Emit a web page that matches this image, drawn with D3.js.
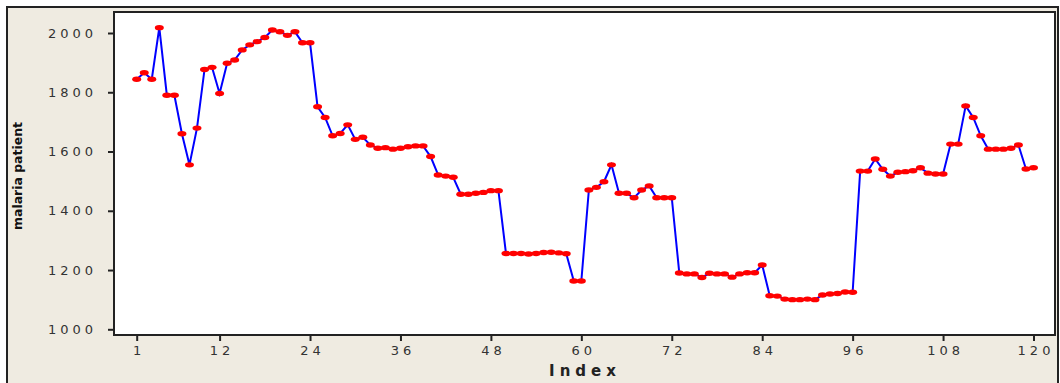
<!DOCTYPE html>
<html>
<head>
<meta charset="utf-8">
<script src="https://cdn.jsdelivr.net/npm/d3@7/dist/d3.min.js"></script>
<style>
  body { margin: 0; background: #fff; }
  svg { display: block; }
  .tick text { font-family: "DejaVu Sans", sans-serif; font-size: 13px; fill: #333; letter-spacing: 4px; }
</style>
</head>
<body>
<div id="chart"></div>
<script>
// malaria patients per index (1..120)
var patients = [
  1844, 1866, 1844, 2018, 1790, 1790, 1660, 1555, 1679, 1877,
  1884, 1796, 1898, 1909, 1943, 1960, 1971, 1985, 2010, 2004,
  1992, 2004, 1967, 1967, 1751, 1715, 1653, 1661, 1690, 1641,
  1648, 1622, 1611, 1613, 1608, 1611, 1616, 1619, 1619, 1583,
  1521, 1517, 1513, 1456, 1456, 1459, 1462, 1468, 1468, 1256,
  1256, 1256, 1254, 1256, 1259, 1260, 1258, 1255, 1163, 1163,
  1470, 1479, 1498, 1555, 1459, 1459, 1444, 1470, 1484, 1444,
  1444, 1444, 1190, 1187, 1187, 1175, 1189, 1187, 1187, 1176,
  1187, 1191, 1191, 1217, 1113, 1112, 1102, 1100, 1100, 1102,
  1100, 1116, 1119, 1121, 1126, 1125, 1534, 1534, 1575, 1540,
  1517, 1530, 1532, 1535, 1545, 1527, 1524, 1524, 1625, 1625,
  1754, 1715, 1653, 1608, 1608, 1608, 1611, 1622, 1541, 1545
];
var indexTicks = [1, 12, 24, 36, 48, 60, 72, 84, 96, 108, 120];
var valueTicks = [1000, 1200, 1400, 1600, 1800, 2000];

var width = 1060, height = 383;
var frame = {left: 114, top: 12, right: 1055, bottom: 335};

var svg = d3.select("#chart").append("svg")
    .attr("width", width)
    .attr("height", height);

// beige panel with dark outline
svg.append("rect")
    .attr("x", 7).attr("y", 7)
    .attr("width", 1051).attr("height", 400)
    .attr("fill", "#efebe1")
    .attr("stroke", "#222")
    .attr("stroke-width", 2);

svg.append("rect")
    .attr("x", frame.left).attr("y", frame.top)
    .attr("width", frame.right - frame.left)
    .attr("height", frame.bottom - frame.top)
    .attr("fill", "#fff");

var x = d3.scaleLinear().domain([1, 120]).range([136.7, 1033.5]);
var y = d3.scaleLinear().domain([1000, 2000]).range([329.3, 33]);

var xAxis = svg.append("g")
    .attr("transform", "translate(0," + frame.bottom + ")")
    .call(d3.axisBottom(x).tickValues(indexTicks).tickSize(6).tickPadding(5).tickFormat(d3.format("d")));
xAxis.select(".domain").remove();
xAxis.selectAll(".tick line").attr("stroke", "#222").attr("stroke-width", 2);
xAxis.selectAll(".tick text").attr("dx", "2px");

var yAxis = svg.append("g")
    .attr("transform", "translate(" + frame.left + ",0)")
    .call(d3.axisLeft(y).tickValues(valueTicks).tickSize(6).tickPadding(15).tickFormat(d3.format("d")));
yAxis.select(".domain").remove();
yAxis.selectAll(".tick line").attr("stroke", "#222").attr("stroke-width", 2);
yAxis.selectAll(".tick text").attr("dx", "4px");

// plot frame
svg.append("rect")
    .attr("x", frame.left).attr("y", frame.top)
    .attr("width", frame.right - frame.left)
    .attr("height", frame.bottom - frame.top)
    .attr("fill", "none")
    .attr("stroke", "#222")
    .attr("stroke-width", 2);

var line = d3.line()
    .x(function(d, i) { return x(i + 1); })
    .y(function(d) { return y(d); });

svg.append("path")
    .datum(patients)
    .attr("fill", "none")
    .attr("stroke", "#0000ff")
    .attr("stroke-width", 2)
    .attr("d", line);

svg.append("g").selectAll("ellipse")
    .data(patients)
  .enter().append("ellipse")
    .attr("cx", function(d, i) { return x(i + 1); })
    .attr("cy", function(d) { return y(d); })
    .attr("rx", 4.5)
    .attr("ry", 2.7)
    .attr("fill", "#ff0000");

// axis titles
svg.append("text")
    .attr("x", 585).attr("y", 376)
    .attr("text-anchor", "middle")
    .attr("font-family", "DejaVu Sans, sans-serif")
    .attr("font-size", 15)
    .attr("font-weight", "bold")
    .attr("letter-spacing", "5px")
    .attr("fill", "#222")
    .text("Index");

svg.append("text")
    .attr("transform", "translate(22,176) rotate(-90)")
    .attr("text-anchor", "middle")
    .attr("font-family", "DejaVu Sans, sans-serif")
    .attr("font-size", 13)
    .attr("font-weight", "bold")
    .attr("textLength", 108)
    .attr("lengthAdjust", "spacingAndGlyphs")
    .attr("fill", "#111")
    .text("malaria patient");
</script>
</body>
</html>
